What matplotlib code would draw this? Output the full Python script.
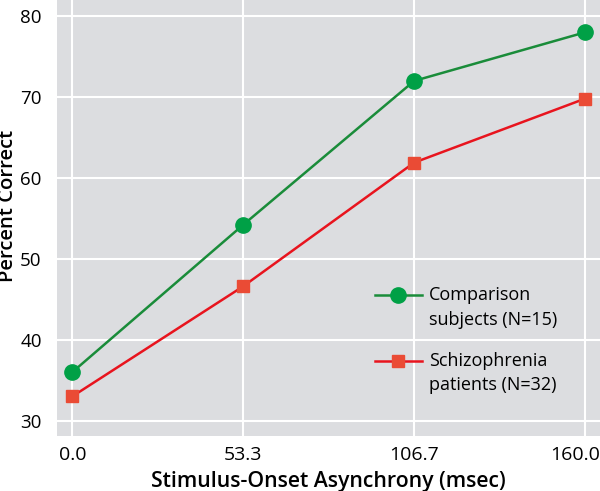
import matplotlib
matplotlib.use('Agg')
import numpy as np
import matplotlib.pyplot as plt
import matplotlib.transforms as mtransforms
from matplotlib.legend_handler import HandlerLine2D

# Data
soa = [0.0, 53.3, 106.7, 160.0]
comparison = [36.0, 54.2, 72.0, 78.0]
schizophrenia = [33.0, 46.6, 61.9, 69.8]
xtick_labels = ['0.0', '53.3', '106.7', '160.0']
yticks = [30, 40, 50, 60, 70, 80]

plt.rcParams['font.family'] = ['Open Sans', 'DejaVu Sans']


# legend handle sits on the first line of a two-line label
class FirstLineHandler(HandlerLine2D):
    def create_artists(self, legend, orig_handle, xdescent, ydescent,
                       width, height, fontsize, trans):
        arts = super().create_artists(legend, orig_handle, xdescent, ydescent,
                                      width, height, fontsize, trans)
        for a in arts:
            a.set_ydata(np.asarray(a.get_ydata()) + 0.7 * fontsize)
        return arts


fig = plt.figure(figsize=(6, 4.91), dpi=100)
ax = fig.add_axes([0.095, 0.112, 0.905, 0.888])
ax.set_facecolor('#dcdde0')

ax.plot(soa, comparison, color='#1a8c3a', lw=1.8, marker='o', ms=11,
        mfc='#00a046', mec='#00a046', label='Comparison\nsubjects (N=15)', zorder=3)
ax.plot(soa, schizophrenia, color='#e8141e', lw=1.8, marker='s', ms=9,
        mfc='#ea4b35', mec='#ea4b35', label='Schizophrenia\npatients (N=32)', zorder=3)

ax.set_xlim(-4.8, 164.7)
ax.set_ylim(28.1, 82.0)
ax.set_xticks(soa)
ax.set_xticklabels(xtick_labels)
ax.set_yticks(yticks)
ax.grid(True, color='white', lw=1.5)
ax.set_axisbelow(True)
for s in ax.spines.values():
    s.set_visible(False)
ax.tick_params(axis='x', length=0, labelsize=14, pad=7)
ax.tick_params(axis='y', length=0, labelsize=13.5, pad=11)

# last x label nudged left so it stays inside the figure
last = ax.get_xticklabels()[-1]
last.set_transform(last.get_transform() +
                   mtransforms.ScaledTranslation(-0.1, 0, fig.dpi_scale_trans))

ax.set_xlabel('Stimulus-Onset Asynchrony (msec)', fontsize=15.3, fontweight='semibold')
ax.set_ylabel('Percent Correct', fontsize=14.6, fontweight='semibold')
ax.xaxis.set_label_coords(0.5, -0.08)
ax.yaxis.set_label_coords(-0.071, 0.527)

leg = ax.legend(loc='upper left', bbox_to_anchor=(0.572, 0.36), frameon=False,
                fontsize=13, handlelength=2.6, labelspacing=1.3, handletextpad=0.4,
                borderaxespad=0,
                handler_map={plt.Line2D: FirstLineHandler()})
for t in leg.get_texts():
    t.set_linespacing(1.45)

fig.savefig('out.png', dpi=100)
